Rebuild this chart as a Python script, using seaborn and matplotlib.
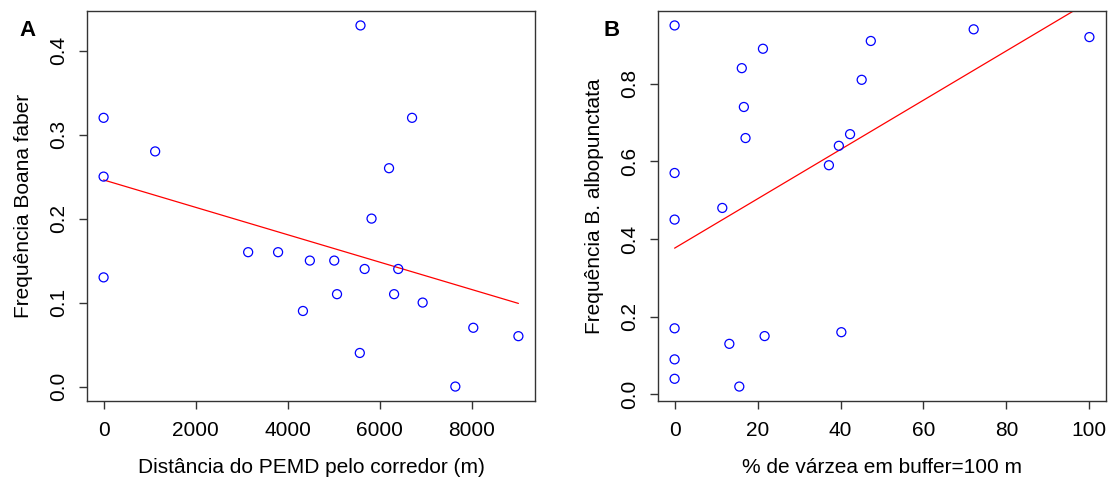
import numpy as np
import pandas as pd
import matplotlib
matplotlib.use("Agg")
import matplotlib.pyplot as plt
import seaborn as sns

# Panel A: distance along the corridor vs. frequency of Boana faber
dist_m = [0, 0, 0, 1120, 3140, 3790, 4480, 5010, 4330, 5070, 5580,
          5565, 5670, 5820, 6200, 6310, 6400, 6700, 6930, 7640, 8030, 9010]
freq_faber = [0.32, 0.25, 0.13, 0.28, 0.16, 0.16, 0.15, 0.15, 0.09, 0.11, 0.43,
              0.04, 0.14, 0.20, 0.26, 0.11, 0.14, 0.32, 0.10, 0.00, 0.07, 0.06]

# Panel B: % floodplain in a 100 m buffer vs. frequency of B. albopunctata
varzea_pct = [0, 0, 0, 0, 0, 0, 11.5, 13.2, 15.6, 16.2, 16.7,
              17.1, 21.3, 21.7, 37.2, 39.6, 40.2, 42.3, 45.1, 47.3, 72.1, 100]
freq_albo = [0.95, 0.57, 0.45, 0.17, 0.09, 0.04, 0.48, 0.13, 0.02, 0.84, 0.74,
             0.66, 0.89, 0.15, 0.59, 0.64, 0.16, 0.67, 0.81, 0.91, 0.94, 0.92]

xticks_a = [0, 2000, 4000, 6000, 8000]
yticks_a = [0.0, 0.1, 0.2, 0.3, 0.4]
xticks_b = [0, 20, 40, 60, 80, 100]
yticks_b = [0.0, 0.2, 0.4, 0.6, 0.8]

sns.set_theme(style="white")
plt.rcParams["font.family"] = ["Liberation Sans", "DejaVu Sans"]
plt.rcParams["text.color"] = "black"
plt.rcParams["axes.labelcolor"] = "black"
plt.rcParams["xtick.color"] = "black"
plt.rcParams["ytick.color"] = "black"

FS = 15

fig = plt.figure(figsize=(11.08, 4.79), dpi=100)
ax_a = fig.add_axes([87 / 1108, 1 - 401 / 479, 448 / 1108, 390 / 479])
ax_b = fig.add_axes([658 / 1108, 1 - 401 / 479, 448 / 1108, 390 / 479])


def r_range(v):
    lo, hi = min(v), max(v)
    pad = 0.04 * (hi - lo)
    return lo - pad, hi + pad


def panel(ax, x, y, xticks, yticks, xlabel, ylabel, tag, tag_x, xfmt, yfmt):
    df = pd.DataFrame({"x": x, "y": y})
    sns.scatterplot(data=df, x="x", y="y", ax=ax, marker="o", s=42,
                    facecolors="none", edgecolor="#0000FF", linewidth=0.9,
                    zorder=3)
    sns.regplot(data=df, x="x", y="y", ax=ax, scatter=False, ci=None,
                truncate=True, line_kws={"color": "#FF0000", "lw": 0.9})
    ax.set_xlim(*r_range(x))
    ax.set_ylim(*r_range(y))
    ax.set_xticks(xticks)
    ax.set_xticklabels([xfmt(t) for t in xticks], fontsize=FS)
    ax.set_yticks(yticks)
    ax.set_yticklabels([yfmt(t) for t in yticks], fontsize=FS,
                       rotation=90, va="center")
    ax.tick_params(axis="both", direction="out", length=6, width=1,
                   color="#333333", bottom=True, left=True)
    ax.tick_params(axis="x", pad=8.5)
    ax.tick_params(axis="y", pad=7.5)
    ax.set_xlabel(xlabel, fontsize=FS, labelpad=13)
    ax.set_ylabel(ylabel, fontsize=FS, labelpad=12)
    for sp in ax.spines.values():
        sp.set_color("#333333")
        sp.set_linewidth(1)
    fig.text(tag_x, 1 - 30 / 479, tag, fontsize=16, fontweight="bold",
             ha="center", va="center")


panel(ax_a, dist_m, freq_faber, xticks_a, yticks_a,
      "Distância do PEMD pelo corredor (m)", "Frequência Boana faber",
      "A", 28 / 1108, lambda t: f"{t:d}", lambda t: f"{t:.1f}")
panel(ax_b, varzea_pct, freq_albo, xticks_b, yticks_b,
      "% de várzea em buffer=100 m", "Frequência B. albopunctata",
      "B", 612 / 1108, lambda t: f"{t:d}", lambda t: f"{t:.1f}")

fig.savefig("out.png", dpi=100, facecolor="white")
